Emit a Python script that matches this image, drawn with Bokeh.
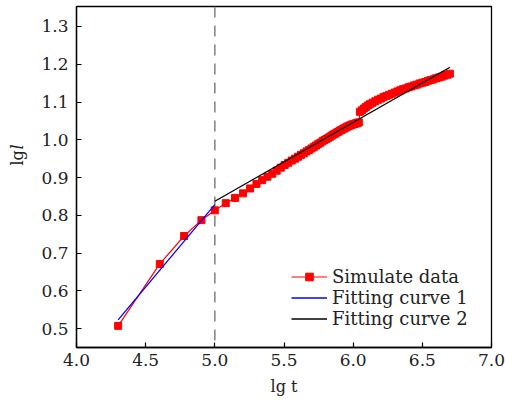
from bokeh.plotting import figure
from bokeh.models import Span, Legend, LegendItem, FixedTicker, NumeralTickFormatter, Range1d
from bokeh.layouts import row
from bokeh.core.properties import value
from bokeh.embed import file_html
from bokeh.resources import INLINE
import math

# ---- data ----
sim_x = [4.301, 4.602, 4.778, 4.903, 5.000, 5.079, 5.146, 5.204, 5.255, 5.301,
         5.342, 5.380, 5.415, 5.447, 5.477, 5.505, 5.531, 5.556, 5.580, 5.602,
         5.623, 5.643, 5.663, 5.681, 5.699, 5.716, 5.732, 5.748, 5.763, 5.778,
         5.792, 5.806, 5.820, 5.833, 5.845, 5.857, 5.869, 5.881, 5.892, 5.903,
         5.914, 5.924, 5.934, 5.944, 5.954, 5.964, 5.973, 5.982, 5.991, 6.000,
         6.009, 6.017, 6.025, 6.033, 6.041,
         6.049, 6.064, 6.079, 6.093, 6.107, 6.121, 6.140, 6.160, 6.180, 6.200,
         6.220, 6.240, 6.260, 6.280, 6.300, 6.320, 6.340, 6.360, 6.380, 6.400,
         6.420, 6.440, 6.460, 6.480, 6.500, 6.520, 6.540, 6.560, 6.580, 6.600,
         6.620, 6.640, 6.660, 6.680, 6.699]
sim_y = [0.507, 0.671, 0.745, 0.787, 0.813, 0.832, 0.846, 0.858, 0.871, 0.883,
         0.893, 0.902, 0.910, 0.918, 0.926, 0.933, 0.939, 0.945, 0.950, 0.955,
         0.960, 0.964, 0.969, 0.973, 0.977, 0.981, 0.985, 0.989, 0.992, 0.996,
         0.999, 1.002, 1.005, 1.008, 1.011, 1.014, 1.016, 1.019, 1.021, 1.024,
         1.026, 1.028, 1.030, 1.032, 1.034, 1.036, 1.037, 1.039, 1.040, 1.041,
         1.042, 1.043, 1.044, 1.045, 1.046,
         1.074, 1.078, 1.083, 1.087, 1.091, 1.094, 1.098, 1.102, 1.106, 1.109,
         1.113, 1.116, 1.119, 1.122, 1.125, 1.128, 1.131, 1.134, 1.136, 1.139,
         1.141, 1.144, 1.146, 1.149, 1.151, 1.153, 1.156, 1.158, 1.160, 1.163,
         1.165, 1.167, 1.170, 1.172, 1.175]

fit1_x = [4.301, 5.000]
fit1_y = [0.523, 0.828]
fit2_x = [5.000, 6.700]
fit2_y = [0.837, 1.192]

split_x = 5.0
x_ticks = [4.0, 4.5, 5.0, 5.5, 6.0, 6.5, 7.0]
y_ticks = [0.5, 0.6, 0.7, 0.8, 0.9, 1.0, 1.1, 1.2, 1.3]

FONT = "DejaVu Serif"
TXT = "#222222"

# ---- main plot ----
p = figure(width=475, height=403, output_backend="svg", toolbar_location=None,
           x_range=Range1d(4.0, 7.0), y_range=Range1d(0.44967, 1.35298),
           min_border_left=46, min_border_right=14, min_border_top=6, min_border_bottom=56)
p.xgrid.visible = False
p.ygrid.visible = False
p.outline_line_color = "black"
p.outline_line_width = 1.3

for ax in (p.xaxis[0], p.yaxis[0]):
    ax.axis_line_color = "black"
    ax.axis_line_width = 1.3
    ax.major_tick_in = 5
    ax.major_tick_out = 0
    ax.minor_tick_line_color = None
    ax.major_tick_line_color = "black"
    ax.major_tick_line_width = 1.2
    ax.major_label_text_font = FONT
    ax.major_label_text_font_size = "17px"
    ax.major_label_text_color = TXT
p.xaxis[0].ticker = FixedTicker(ticks=x_ticks)
p.yaxis[0].ticker = FixedTicker(ticks=y_ticks)
p.xaxis[0].formatter = NumeralTickFormatter(format="0.0")
p.yaxis[0].formatter = NumeralTickFormatter(format="0.0")
p.xaxis[0].major_label_standoff = 6
p.yaxis[0].major_label_standoff = 8

p.xaxis[0].axis_label = "lg t"
p.xaxis[0].axis_label_text_font = FONT
p.xaxis[0].axis_label_text_font_size = "16px"
p.xaxis[0].axis_label_text_font_style = "normal"
p.xaxis[0].axis_label_text_color = TXT
p.xaxis[0].axis_label_standoff = 8

span = Span(location=split_x, dimension="height", line_color="#808080",
            line_width=1.5, line_dash="11 8", level="underlay")
p.add_layout(span)

r_line = p.line(sim_x, sim_y, line_color="#ff0000", line_width=1.2)
r_pts = p.scatter(sim_x, sim_y, marker="square", size=7, fill_color="#ff0000",
                  line_color="#ff0000")
r_fit1 = p.line(fit1_x, fit1_y, line_color="#0000ff", line_width=1.3)
r_fit2 = p.line(fit2_x, fit2_y, line_color="black", line_width=1.3)

legend = Legend(items=[LegendItem(label="Simulate data", renderers=[r_line, r_pts]),
                       LegendItem(label="Fitting curve 1", renderers=[r_fit1]),
                       LegendItem(label="Fitting curve 2", renderers=[r_fit2])],
                location=(215, 18), padding=0, spacing=0, margin=0,
                label_text_font=FONT, label_text_font_size="18px",
                label_text_color=TXT, label_height=19, glyph_height=19,
                glyph_width=36, label_standoff=5,
                border_line_color=None, background_fill_alpha=0)
p.add_layout(legend, "center")

# ---- y-axis title strip (window pixel coords, y from bottom) ----
ylab = figure(width=30, height=403, output_backend="svg", toolbar_location=None,
              title=None, x_range=Range1d(0, 30), y_range=Range1d(0, 403),
              min_border_left=0, min_border_right=0, min_border_top=0,
              min_border_bottom=0, x_axis_location=None, y_axis_location=None)
ylab.xgrid.visible = False
ylab.ygrid.visible = False
ylab.outline_line_color = None
ylab.text(x=[17], y=[215], text=["lg"], angle=math.pi / 2, text_align="left",
          text_baseline="middle", text_font=value(FONT), text_font_size="16px",
          text_color=TXT)
ylab.text(x=[17], y=[234], text=["l"], angle=math.pi / 2, text_align="left",
          text_baseline="middle", text_font=value(FONT), text_font_size="16px",
          text_font_style="italic", text_color=TXT)

layout = row(ylab, p, spacing=0)

open("out.html", "w").write(file_html(layout, INLINE))
